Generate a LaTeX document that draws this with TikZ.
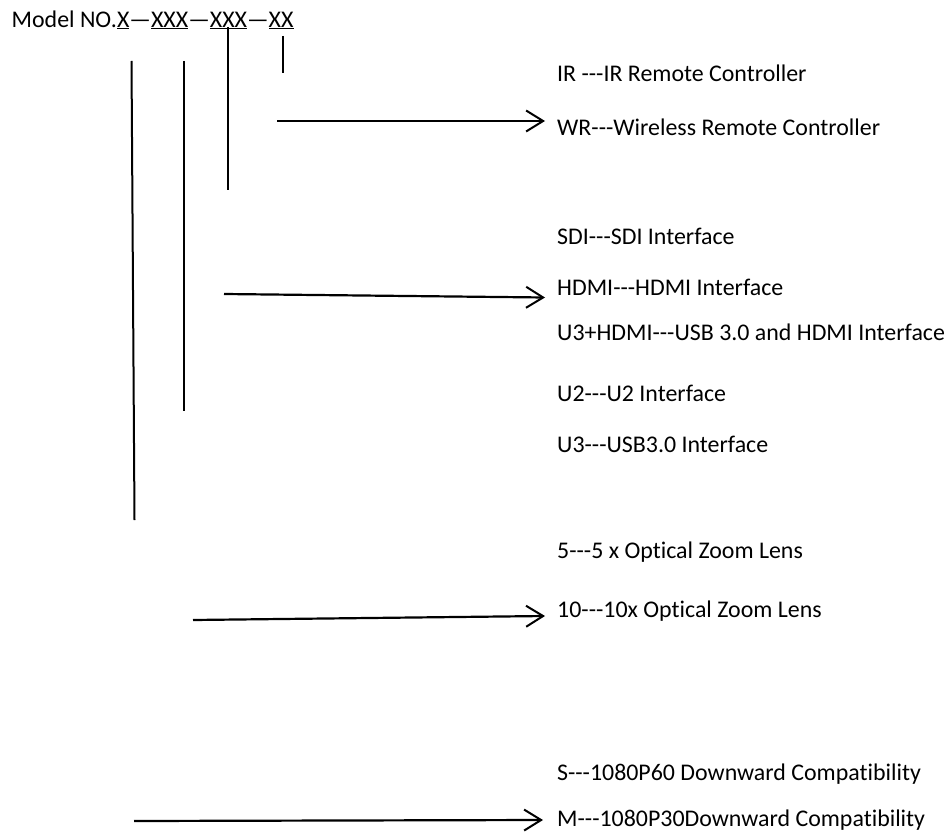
\documentclass[tikz,border=0pt]{standalone}
\usepackage{fontspec}
\setmainfont{Carlito}[Ligatures={TeXOff,CommonOff}]
\usetikzlibrary{arrows.meta}
\begin{document}
\begin{tikzpicture}[x=1pt,y=-1pt,
  lbl/.style={anchor=base west, inner sep=0pt, font=\fontsize{23.9}{28}\selectfont},
  vline/.style={line width=2pt},
  conn/.style={line width=2.2pt, -{Straight Barb[length=17pt,width=21pt,line width=2pt]}}]
\useasboundingbox (0,0) rectangle (949,834);
% title
\node[lbl] (title) at (11.5,27.3) {Model NO.\underline{X}—\underline{XXX}—\underline{XXX}—\underline{XX}};
% labels
\node[lbl] (ir)   at (557,82)  {IR ---IR Remote Controller};
\node[lbl] (wr)   at (557,136) {WR---Wireless Remote Controller};
\node[lbl] (sdi)  at (557,244) {SDI---SDI Interface};
\node[lbl] (hdmi) at (557,295) {HDMI---HDMI Interface};
\node[lbl] (u3h)  at (557,340) {U3+HDMI---USB 3.0 and HDMI Interface};
\node[lbl] (u2)   at (557,401) {U2---U2 Interface};
\node[lbl] (u3)   at (557,452) {U3---USB3.0 Interface};
\node[lbl] (z5)   at (557,558) {5---5 x Optical Zoom Lens};
\node[lbl] (z10)  at (557,617) {10---10x Optical Zoom Lens};
\node[lbl] (s)    at (557,780) {S---1080P60 Downward Compatibility};
\node[lbl] (m)    at (557,826) {M---1080P30Downward Compatibility};
% vertical lines
\coordinate (v1a) at (131.5,61);  \coordinate (v1b) at (134.5,520);
\coordinate (v2a) at (184,61);    \coordinate (v2b) at (184,411);
\coordinate (v3a) at (228,27);    \coordinate (v3b) at (228,190);
\coordinate (v4a) at (283,36);    \coordinate (v4b) at (283,73);
\draw[vline] (v1a) -- (v1b);
\draw[vline] (v2a) -- (v2b);
\draw[vline] (v3a) -- (v3b);
\draw[vline] (v4a) -- (v4b);
% arrows
\coordinate (a1s) at (277,121);  \coordinate (a1e) at (545,121);
\coordinate (a2s) at (224,294);  \coordinate (a2e) at (545,297.5);
\coordinate (a3s) at (193,620);  \coordinate (a3e) at (545,616);
\coordinate (a4s) at (134,821);  \coordinate (a4e) at (543,820);
\draw[conn] (a1s) -- (a1e);
\draw[conn] (a2s) -- (a2e);
\draw[conn] (a3s) -- (a3e);
\draw[conn] (a4s) -- (a4e);
\end{tikzpicture}
\end{document}
